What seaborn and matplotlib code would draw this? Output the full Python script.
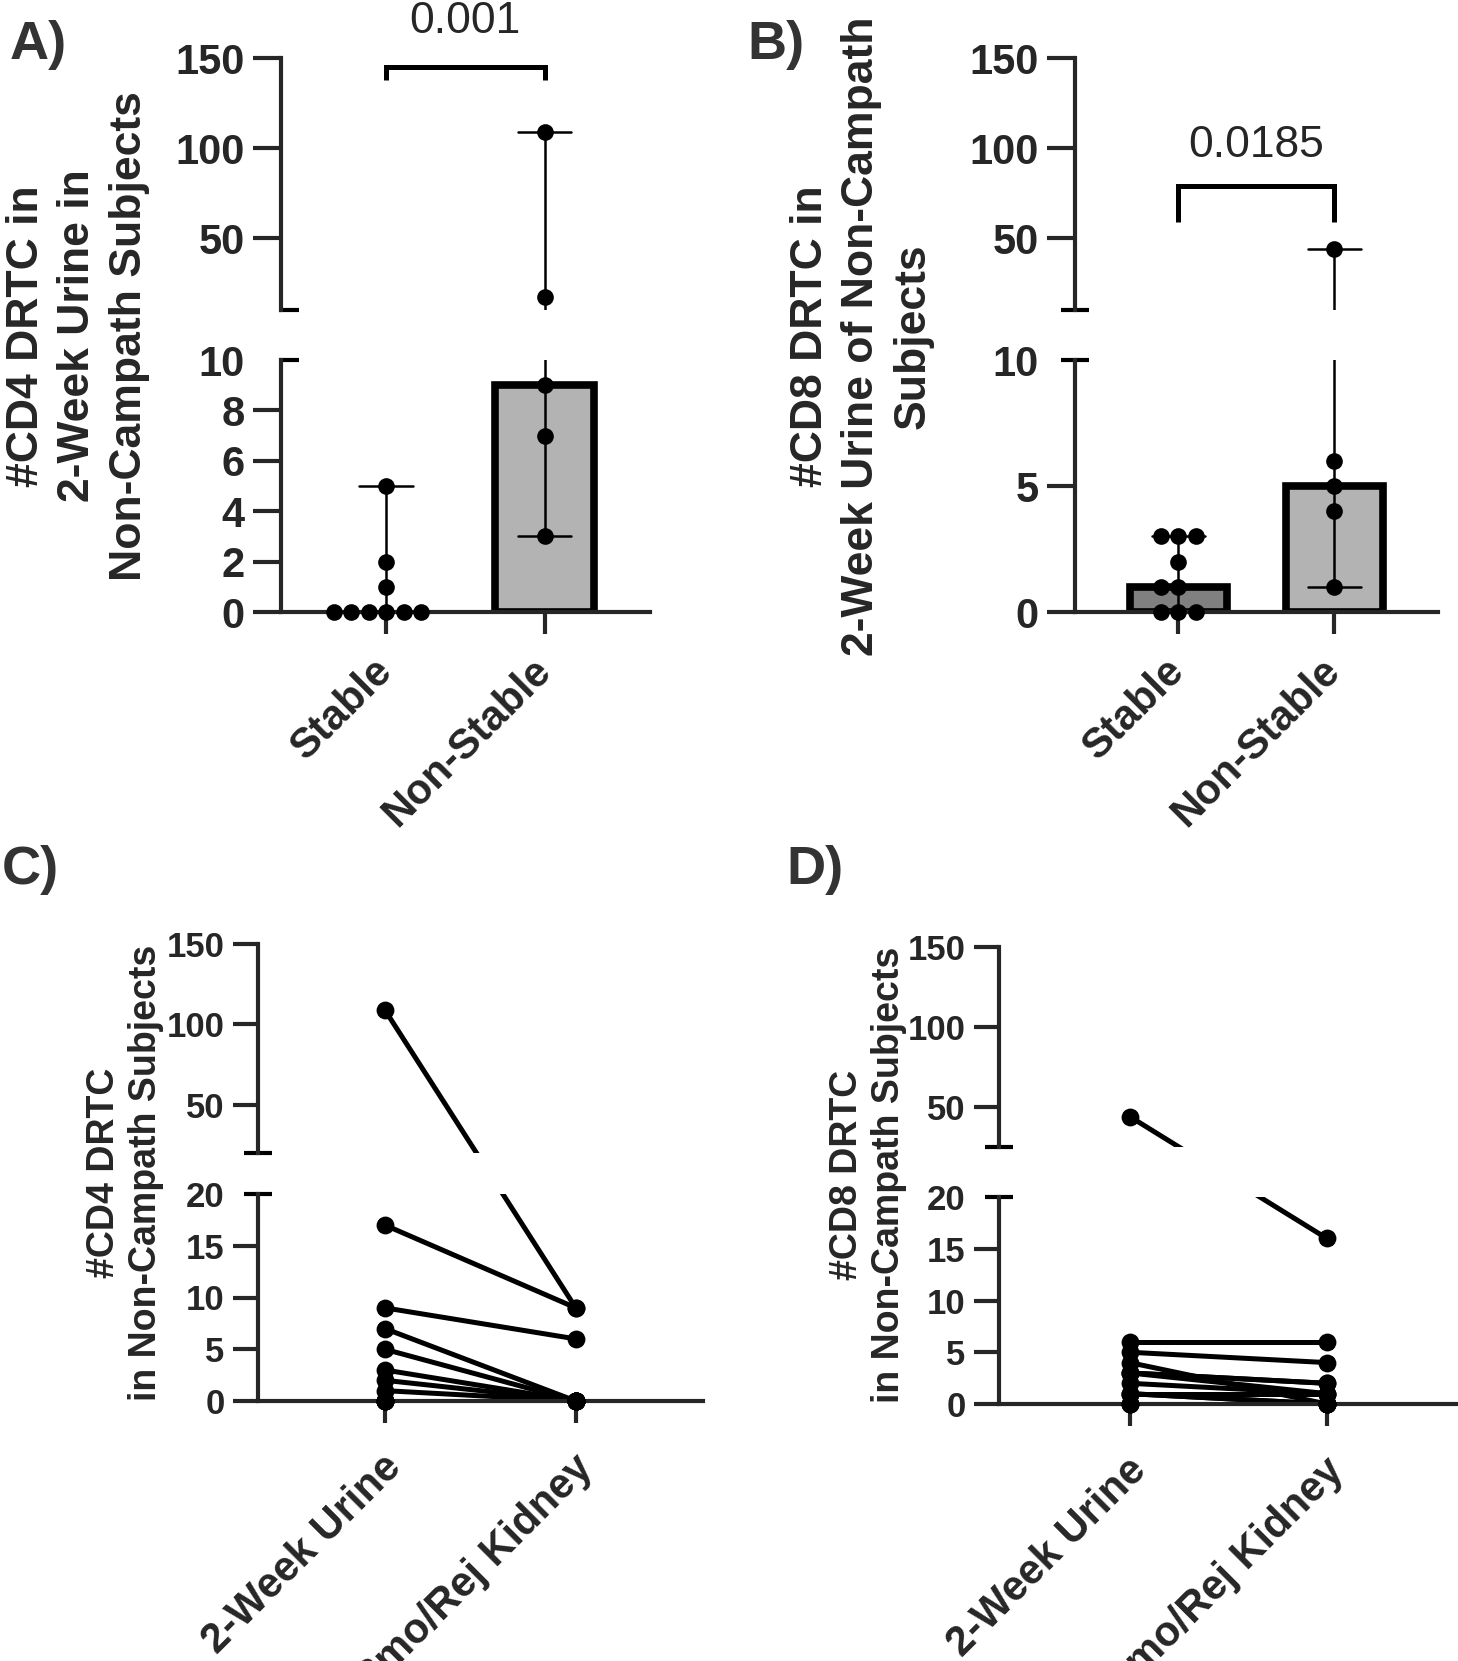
import numpy as np
import pandas as pd
import matplotlib
matplotlib.use("Agg")
import matplotlib.pyplot as plt
from matplotlib.transforms import ScaledTranslation
import seaborn as sns

# ---------------- data ----------------
groups = ["Stable", "Non-Stable"]
cd4_stable = [0, 0, 0, 0, 0, 0, 1, 2, 5]
cd4_nonstable = [3, 7, 9, 17, 109]
cd8_stable = [0, 0, 0, 1, 1, 2, 3, 3, 3]
cd8_nonstable = [1, 4, 5, 6, 44]

timepoints = ["2-Week Urine", "3mo/Rej Kidney"]
cd4_urine = [109, 17, 9, 7, 3, 5, 2, 1, 0, 0, 0, 0, 0, 0]
cd4_kidney = [9, 9, 6, 0, 0, 0, 0, 0, 0, 0, 0, 0, 0, 0]
cd8_urine = [44, 6, 5, 4, 3, 3, 3, 2, 1, 1, 1, 0, 0, 0]
cd8_kidney = [16, 6, 4, 0, 2, 2, 1, 1, 0, 1, 0, 0, 0, 0]

p_values = ["0.001", "0.0185"]
ylabels = ["#CD4 DRTC in\n2-Week Urine in\nNon-Campath Subjects",
           "#CD8 DRTC in\n2-Week Urine of Non-Campath\nSubjects",
           "#CD4 DRTC\nin Non-Campath Subjects",
           "#CD8 DRTC\nin Non-Campath Subjects"]
panel_letters = ["A)", "B)", "C)", "D)"]

# ---------------- style ----------------
sns.set_style("white")
plt.rcParams["font.family"] = ["Liberation Sans", "DejaVu Sans"]
plt.rcParams["font.weight"] = "bold"

W, H = 1458, 1661
fig = plt.figure(figsize=(W / 100, H / 100), dpi=100)
XLIM = (-0.664, 1.666)
LW = 3.0
EPS = 1e-6


def px_axes(l, t, r, b):
    return fig.add_axes([l / W, 1 - b / H, (r - l) / W, (b - t) / H])


def make_break_scale(lo_lo, lo_hi, up_lo, k_lo, k_up, gap):
    """Piecewise-linear scale so both halves of a broken axis share one screen space."""
    h_lo = (lo_hi - lo_lo) * k_lo

    def fwd(y):
        y = np.asarray(y, dtype=float)
        lower = (y - lo_lo) * k_lo
        upper = h_lo + gap + (y - up_lo) * k_up
        mid = h_lo + (y - lo_hi) / (up_lo - lo_hi) * gap
        return np.where(y <= lo_hi, lower, np.where(y >= up_lo, upper, mid))

    def inv(z):
        z = np.asarray(z, dtype=float)
        lower = z / k_lo + lo_lo
        upper = (z - h_lo - gap) / k_up + up_lo
        mid = lo_hi + (z - h_lo) / gap * (up_lo - lo_hi)
        return np.where(z <= h_lo, lower, np.where(z >= h_lo + gap, upper, mid))

    return fwd, inv


def style_pair(ax_t, ax_b, up_lim, lo_lim, up_ticks, lo_ticks, tick_fs, tick_len,
               xlabels, xlab_fs, xpad, brk, axw, shift):
    for ax in (ax_t, ax_b):
        ax.set_xlim(*XLIM)
        ax.set_xlabel("")
        ax.set_ylabel("")
        ax.spines["top"].set_visible(False)
        ax.spines["right"].set_visible(False)
        ax.spines["left"].set_linewidth(LW)
        ax.spines["bottom"].set_linewidth(LW)
        ax.set_facecolor("none")
        ax.tick_params(axis="y", direction="out", length=tick_len, width=LW,
                       labelsize=tick_fs, pad=6, left=True)
    ax_t.spines["bottom"].set_visible(False)
    ax_t.tick_params(axis="x", bottom=False, labelbottom=False)
    ax_t.set_ylim(*up_lim)
    ax_b.set_ylim(*lo_lim)
    ax_t.set_yticks(up_ticks)
    ax_t.set_yticklabels([str(v) for v in up_ticks])
    ax_b.set_yticks(lo_ticks)
    ax_b.set_yticklabels([str(v) for v in lo_ticks])
    ax_b.yaxis.get_major_ticks()[len(lo_ticks) - 1].tick1line.set_visible(False)
    ax_b.set_xticks([0, 1])
    ax_b.set_xticklabels(xlabels, rotation=45, ha="right", fontsize=xlab_fs)
    ax_b.tick_params(axis="x", direction="out", length=16, width=LW, pad=xpad, bottom=True)
    off = ScaledTranslation(shift[0] / 100, shift[1] / 100, fig.dpi_scale_trans)
    for lab in ax_b.get_xticklabels():
        lab.set_transform(lab.get_transform() + off)
    # axis-break marks
    x0, x1 = brk
    for ax, y in ((ax_t, 0), (ax_b, 1)):
        ax.plot([x0 / axw, x1 / axw], [y, y], transform=ax.transAxes, color="black",
                lw=LW, clip_on=False, solid_capstyle="butt")


def bar_panel(left, right, ut, ub, lt, lb, up_lim, lo_lim, up_ticks, lo_ticks,
              stable, nonstable, colors, p_text, p_y, br_y, br_leg, brk):
    ax_t = px_axes(left, ut, right, ub)
    ax_b = px_axes(left, lt, right, lb)
    df = pd.DataFrame({"group": ["Stable"] * len(stable) + ["Non-Stable"] * len(nonstable),
                       "count": stable + nonstable})
    pal = dict(zip(groups, colors))
    for ax, (lo, hi) in ((ax_t, up_lim), (ax_b, lo_lim)):
        sns.barplot(data=df, x="group", y="count", hue="group", order=groups,
                    hue_order=groups, palette=pal, estimator="median",
                    errorbar=lambda v: (v.min(), v.max()), capsize=0.34,
                    err_kws={"color": "black", "linewidth": 1.8},
                    edgecolor="black", linewidth=5.5, width=0.62, legend=False,
                    saturation=1, ax=ax)
        for p in ax.patches:
            if p.get_height() == 0 or p.get_height() < lo:
                p.set_visible(False)
        sub = df[(df["count"] >= lo) & (df["count"] <= hi)]
        n0 = len(ax.collections)
        sns.swarmplot(data=sub, x="group", y="count", order=groups, color="black",
                      size=12, ax=ax)
        for c in ax.collections[n0:]:
            c.set_clip_on(False)
            c.set_zorder(5)
    style_pair(ax_t, ax_b, up_lim, lo_lim, up_ticks, lo_ticks, 30, 20,
               groups, 30, 12, brk, right - left, (14, 0))
    ax_t.plot([0, 0, 1, 1], [br_leg, br_y, br_y, br_leg], color="black", lw=3.6,
              clip_on=False, solid_joinstyle="miter", solid_capstyle="butt")
    ax_t.text(0.5, p_y, p_text, ha="center", va="baseline", fontsize=32,
              fontweight="normal", clip_on=False)
    return ax_t, ax_b


def line_panel(left, right, ut, ub, lt, lb, up_lim, lo_lim, up_ticks, lo_ticks,
               urine, kidney, brk):
    ax_t = px_axes(left, ut, right, ub)
    ax_b = px_axes(left, lt, right, lb)
    n = len(urine)
    df = pd.DataFrame({"subject": list(range(n)) * 2,
                       "time": [timepoints[0]] * n + [timepoints[1]] * n,
                       "count": urine + kidney})
    up_lo = up_lim[0] if up_lim[0] > lo_lim[1] else lo_lim[1] + EPS
    up_lim = (up_lo, up_lim[1])
    k_lo = (lb - lt) / (lo_lim[1] - lo_lim[0])
    k_up = (ub - ut) / (up_lim[1] - up_lim[0])
    fwd, inv = make_break_scale(lo_lim[0], lo_lim[1], up_lo, k_lo, k_up, lt - ub)
    for ax, (lo, hi) in ((ax_t, up_lim), (ax_b, lo_lim)):
        sns.lineplot(data=df, x="time", y="count", units="subject", estimator=None,
                     color="black", linewidth=3.6, sort=False, ax=ax)
        sub = df[(df["count"] >= lo) & (df["count"] <= hi)]
        sns.scatterplot(data=sub, x="time", y="count", color="black", s=165,
                        linewidth=0, clip_on=False, zorder=5, ax=ax)
        ax.set_yscale("function", functions=(fwd, inv))
    style_pair(ax_t, ax_b, up_lim, lo_lim, up_ticks, lo_ticks, 25, 18,
               timepoints, 30, 24, brk, right - left, (25, 9))
    return ax_t, ax_b


# Panel A
bar_panel(281, 650, 58, 310, 360, 612, (10, 150), (0, 10), [50, 100, 150],
          [0, 2, 4, 6, 8, 10], cd4_stable, cd4_nonstable, ["#808080", "#B3B3B3"],
          p_values[0], 164, 145, 138, (-2, 18))
# Panel B
bar_panel(1075, 1438, 58, 310, 360, 612, (10, 150), (0, 10), [50, 100, 150],
          [0, 5, 10], cd8_stable, cd8_nonstable, ["#808080", "#B3B3B3"],
          p_values[1], 95, 79, 59, (-14, 14))
# Panel C
line_panel(258, 703, 944, 1153, 1194, 1401, (20, 150), (0, 20), [50, 100, 150],
           [0, 5, 10, 15, 20], cd4_urine, cd4_kidney, (-14, 14))
# Panel D
line_panel(999, 1458, 947, 1147, 1197, 1404, (25, 150), (0, 20), [50, 100, 150],
           [0, 5, 10, 15, 20], cd8_urine, cd8_kidney, (-14, 14))

# y labels
ylab_pos = [(78, 336, 32, 1.33), (862, 336, 32, 1.33), (125, 1173, 27, 1.2),
            (868, 1175, 27, 1.2)]
for (x, y, fs, ls), txt in zip(ylab_pos, ylabels):
    fig.text(x / W, 1 - y / H, txt, rotation=90, ha="center", va="center",
             multialignment="center", fontsize=fs, fontweight="bold", linespacing=ls)

# panel letters
letter_pos = [(10, 20), (747, 20), (2, 845), (786, 845)]
for (x, y), txt in zip(letter_pos, panel_letters):
    fig.text(x / W, 1 - y / H, txt, ha="left", va="top", fontsize=39,
             fontweight="bold", color="#333333")

fig.savefig("out.png", dpi=100, facecolor="white")
